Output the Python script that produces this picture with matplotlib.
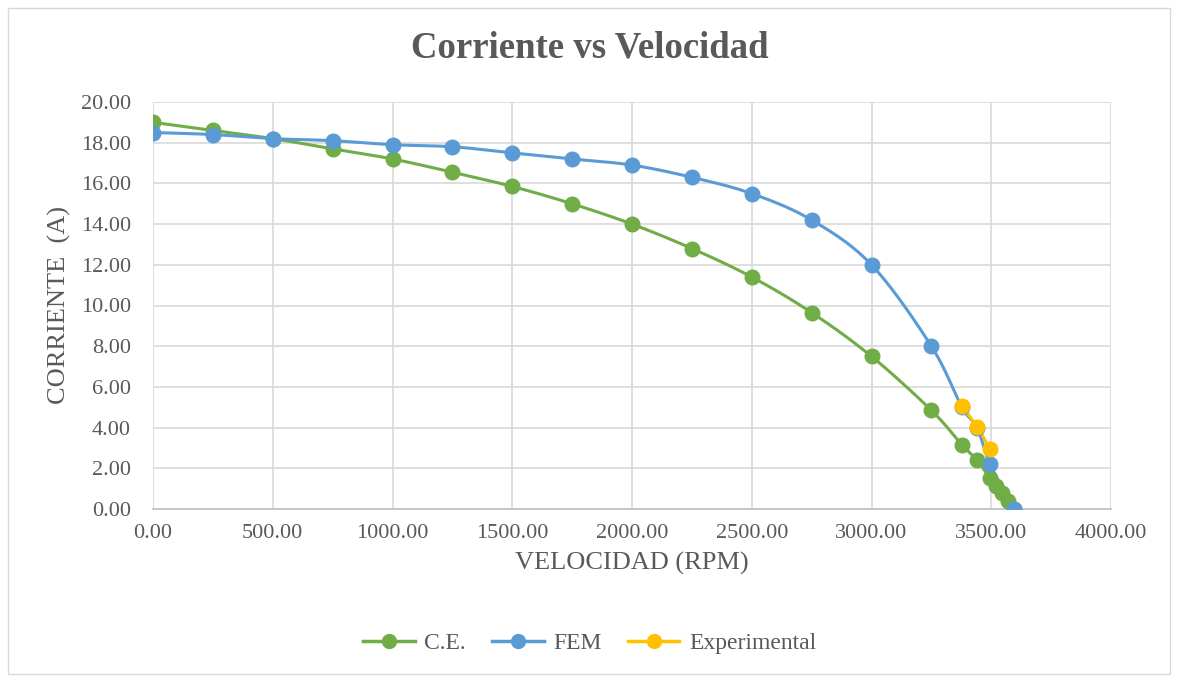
import numpy as np
import matplotlib.pyplot as plt
from matplotlib.patches import Rectangle

# C.E. curve
ce_rpm = [0, 250, 500, 750, 1000, 1250, 1500, 1750, 2000, 2250, 2500, 2750, 3000, 3250,
          3378, 3441, 3495, 3520, 3545, 3570, 3595]
ce_amp = [19.0, 18.6, 18.2, 17.7, 17.2, 16.55, 15.85, 15.0, 14.0, 12.8, 11.4, 9.65, 7.5, 4.85,
          3.15, 2.4, 1.5, 1.15, 0.8, 0.4, 0.0]

# FEM curve
fem_rpm = [0, 250, 500, 750, 1000, 1250, 1500, 1750, 2000, 2250, 2500, 2750, 3000, 3250,
           3378, 3441, 3495, 3595]
fem_amp = [18.5, 18.4, 18.2, 18.1, 17.9, 17.8, 17.5, 17.2, 16.9, 16.3, 15.5, 14.2, 12.0, 8.0,
           5.0, 4.0, 2.2, 0.0]

# Experimental
exp_rpm = [3378, 3441, 3495]
exp_amp = [5.06, 4.03, 2.95]

GREEN = '#70AD47'
BLUE = '#5B9BD5'
YELLOW = '#FFC000'
TXT = '#595959'


def smooth(x, y, n=20):
    # Catmull-Rom path like Excel's smoothed line
    x = np.asarray(x, float)
    y = np.asarray(y, float)
    if len(x) < 3:
        return x, y
    px = np.concatenate([[2 * x[0] - x[1]], x, [2 * x[-1] - x[-2]]])
    py = np.concatenate([[2 * y[0] - y[1]], y, [2 * y[-1] - y[-2]]])
    t = np.linspace(0, 1, n)
    xs, ys = [], []
    for i in range(1, len(px) - 2):
        for p, out in ((px, xs), (py, ys)):
            p0, p1, p2, p3 = p[i - 1], p[i], p[i + 1], p[i + 2]
            out.append(0.5 * (2 * p1 + (-p0 + p2) * t + (2 * p0 - 5 * p1 + 4 * p2 - p3) * t ** 2
                              + (-p0 + 3 * p1 - 3 * p2 + p3) * t ** 3))
    return np.concatenate(xs), np.concatenate(ys)


plt.rcParams['font.family'] = ['Liberation Serif', 'DejaVu Serif']

fig = plt.figure(figsize=(11.79, 6.78), dpi=100)
ax = fig.add_axes([153 / 1179, 1 - 509 / 678, 958 / 1179, 407 / 678])

fig.patches.append(Rectangle((8 / 1179, 4 / 678), 1162 / 1179, 666 / 678, transform=fig.transFigure,
                             fill=False, edgecolor='#D9D9D9', linewidth=1))

for xs, ys, c, lab in ((ce_rpm, ce_amp, GREEN, 'C.E.'),
                       (fem_rpm, fem_amp, BLUE, 'FEM'),
                       (exp_rpm, exp_amp, YELLOW, 'Experimental')):
    sx, sy = smooth(xs, ys)
    ax.plot(sx, sy, color=c, linewidth=2.2, solid_capstyle='round', zorder=3)
    ax.plot(xs, ys, 'o', color=c, markersize=10.5, zorder=4)
    ax.plot([], [], '-o', color=c, linewidth=2.5, markersize=10, label=lab)

ax.set_xlim(0, 4000)
ax.set_ylim(0, 20)
ax.set_xticks(np.arange(0, 4001, 500))
ax.set_yticks(np.arange(0, 20.1, 2))
ax.xaxis.set_major_formatter(lambda v, p: f"{v:.2f}")
ax.yaxis.set_major_formatter(lambda v, p: f"{v:.2f}")
ax.tick_params(length=0, labelsize=16, labelcolor=TXT)
ax.tick_params(axis='x', pad=11)
ax.tick_params(axis='y', pad=16)
ax.grid(True, color='#D9D9D9', linewidth=1.2)
ax.set_axisbelow(True)
for s in ('top', 'right', 'left'):
    ax.spines[s].set_visible(False)
ax.spines['bottom'].set_color('#BFBFBF')
ax.spines['bottom'].set_linewidth(1.2)

ax.set_xlabel('VELOCIDAD (RPM)', fontsize=19, color=TXT, labelpad=6)
ax.set_ylabel('CORRIENTE  (A)', fontsize=19, color=TXT, labelpad=7)
fig.text(0.5, 1 - 48 / 678, 'Corriente vs Velocidad', ha='center', va='center',
         fontsize=26.5, fontweight='bold', color=TXT)

fig.legend(loc='center', bbox_to_anchor=(0.5, 1 - 643 / 678), ncol=3, frameon=False,
           fontsize=17, labelcolor=TXT, handlelength=2.2, handletextpad=0.4, columnspacing=1.1)

fig.savefig('out.png', dpi=100)
